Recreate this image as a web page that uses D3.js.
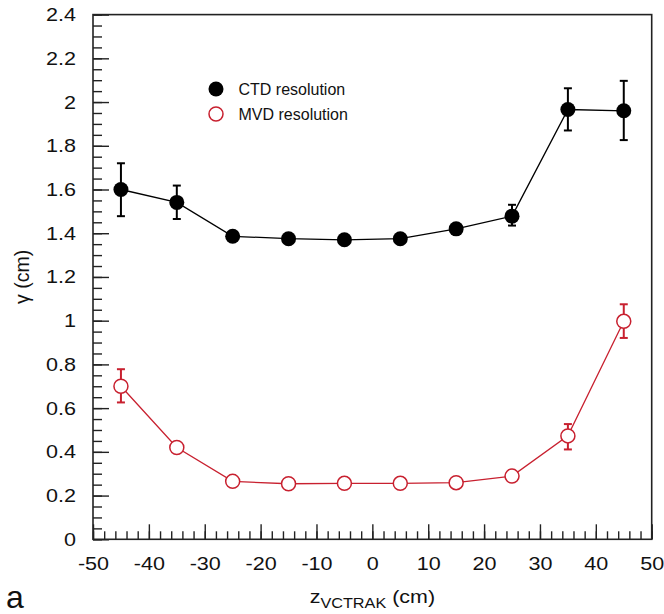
<!DOCTYPE html>
<html>
<head>
<meta charset="utf-8">
<script src="https://cdn.jsdelivr.net/npm/d3@7"></script>
<style>
  body { margin: 0; background: #fff; }
  text { font-family: "Liberation Sans", Arial, sans-serif; fill: #111; }
</style>
</head>
<body>
<div id="chart"></div>
<script>
// data
var z_values = [-45, -35, -25, -15, -5, 5, 15, 25, 35, 45];

var ctd_values = [1.600, 1.541, 1.386, 1.375, 1.370, 1.375, 1.420, 1.478, 1.966, 1.960];
var ctd_up     = [1.720, 1.618, 1.400, 1.390, 1.385, 1.390, 1.435, 1.530, 2.063, 2.097];
var ctd_down   = [1.478, 1.465, 1.372, 1.360, 1.355, 1.360, 1.405, 1.435, 1.870, 1.826];

var mvd_values = [0.700, 0.420, 0.265, 0.254, 0.256, 0.256, 0.259, 0.289, 0.473, 0.997];
var mvd_up     = [0.778, 0.432, 0.275, 0.264, 0.266, 0.266, 0.269, 0.300, 0.527, 1.075];
var mvd_down   = [0.626, 0.408, 0.255, 0.244, 0.246, 0.246, 0.249, 0.278, 0.411, 0.921];

var x_ticks = [-50, -40, -30, -20, -10, 0, 10, 20, 30, 40, 50];
var y_ticks = [0, 0.2, 0.4, 0.6, 0.8, 1, 1.2, 1.4, 1.6, 1.8, 2, 2.2, 2.4];

var legend_labels = ["CTD resolution", "MVD resolution"];

// chart parameters
var svg_width = 664;
var svg_height = 614;
var margin = { top: 14.6, right: 12.3, bottom: 74.7, left: 93 };
var width = svg_width - margin.left - margin.right;
var height = svg_height - margin.top - margin.bottom;
var red = "#c8202f";
var stretch = 1.16;

var svg = d3.select("#chart")
    .append("svg")
    .attr("width", svg_width)
    .attr("height", svg_height);

var chart = svg.append("g")
    .attr("transform", `translate(${margin.left}, ${margin.top})`);

var x_scale = d3.scaleLinear().domain([-50, 50]).range([0, width]);
var y_scale = d3.scaleLinear().domain([0, 2.4]).range([height, 0]);

// minor ticks
var x_minor = d3.range(-50, 50.01, 2);
var y_minor = d3.range(0, 2.401, 0.05);

chart.append("g")
    .attr("transform", `translate(0, ${height})`)
    .call(d3.axisBottom(x_scale).tickValues(x_minor).tickSize(-8).tickFormat(""))
    .call(g => g.select(".domain").remove());

chart.append("g")
    .call(d3.axisLeft(y_scale).tickValues(y_minor).tickSize(-9).tickFormat(""))
    .call(g => g.select(".domain").remove());

// major ticks and labels (plain hyphen for negatives, like the original)
var x_axis = chart.append("g")
    .attr("transform", `translate(0, ${height})`)
    .call(d3.axisBottom(x_scale).tickValues(x_ticks).tickSize(-15).tickPadding(18).tickFormat(d => String(d)))
    .call(g => g.select(".domain").remove());

x_axis.selectAll("text")
    .attr("font-size", 18.6)
    .attr("transform", `scale(${stretch},1)`);

var y_axis = chart.append("g")
    .call(d3.axisLeft(y_scale).tickValues(y_ticks).tickSize(-16).tickPadding(17).tickFormat(d => String(+d.toFixed(1))))
    .call(g => g.select(".domain").remove());

y_axis.selectAll("text")
    .attr("font-size", 18.6)
    .attr("x", -17 / stretch)
    .attr("transform", `scale(${stretch},1)`);

chart.selectAll(".tick line")
    .attr("stroke", "#222")
    .attr("stroke-width", 1.4);

// frame
chart.append("rect")
    .attr("width", width)
    .attr("height", height)
    .attr("fill", "none")
    .attr("stroke", "#222")
    .attr("stroke-width", 1.6);

// series
function drawSeries(values, up, down, color, filled) {
    var line = d3.line()
        .x((d, i) => x_scale(z_values[i]))
        .y(d => y_scale(d));

    chart.append("path")
        .datum(values)
        .attr("d", line)
        .attr("fill", "none")
        .attr("stroke", color)
        .attr("stroke-width", 1.3);

    var bars = chart.append("g")
        .attr("stroke", color)
        .attr("stroke-width", 2);

    z_values.forEach(function(z, i) {
        var x = x_scale(z);
        bars.append("line")
            .attr("x1", x).attr("x2", x)
            .attr("y1", y_scale(up[i])).attr("y2", y_scale(down[i]));
        [up[i], down[i]].forEach(function(v) {
            bars.append("line")
                .attr("x1", x - 4).attr("x2", x + 4)
                .attr("y1", y_scale(v)).attr("y2", y_scale(v));
        });
    });

    chart.selectAll(null)
        .data(values)
        .enter()
        .append("circle")
        .attr("cx", (d, i) => x_scale(z_values[i]))
        .attr("cy", d => y_scale(d))
        .attr("r", filled ? 7.5 : 7)
        .attr("fill", filled ? color : "#fff")
        .attr("stroke", color)
        .attr("stroke-width", filled ? 0 : 1.5);
}

drawSeries(ctd_values, ctd_up, ctd_down, "#000", true);
drawSeries(mvd_values, mvd_up, mvd_down, red, false);

// legend
var legend = svg.append("g");

legend.append("circle")
    .attr("cx", 216).attr("cy", 89).attr("r", 7.5)
    .attr("fill", "#000");

legend.append("circle")
    .attr("cx", 216).attr("cy", 114).attr("r", 7)
    .attr("fill", "#fff").attr("stroke", red).attr("stroke-width", 1.5);

legend.selectAll(".legend-text")
    .data(legend_labels)
    .enter()
    .append("text")
    .attr("class", "legend-text")
    .attr("x", 238.5)
    .attr("y", (d, i) => 94.5 + i * 25)
    .attr("font-size", 16)
    .text(d => d);

// axis titles
var x_title = svg.append("text")
    .attr("transform", `translate(${margin.left + width / 2}, 603.3) scale(${stretch},1)`)
    .attr("text-anchor", "middle")
    .attr("font-size", 18.5);

x_title.append("tspan").text("z");
x_title.append("tspan").attr("font-size", 14).attr("dy", 4.5).text("VCTRAK");
x_title.append("tspan").attr("dy", -4.5).text(" (cm)");

svg.append("text")
    .attr("transform", `translate(29, ${margin.top + height / 2}) rotate(-90)`)
    .attr("text-anchor", "middle")
    .attr("font-size", 19.5)
    .text("γ (cm)");

// panel label
svg.append("text")
    .attr("x", 6)
    .attr("y", 608)
    .attr("font-size", 32)
    .text("a");
</script>
</body>
</html>
